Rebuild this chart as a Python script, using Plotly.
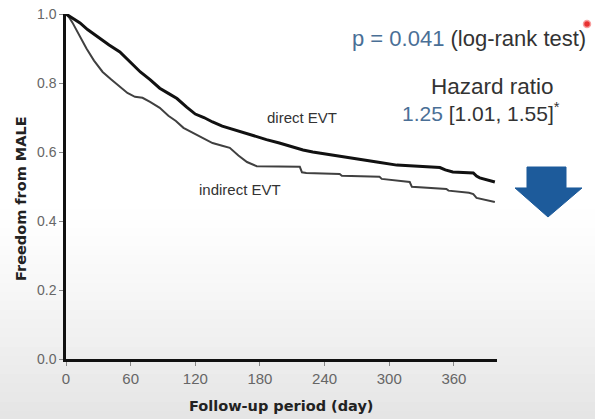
import plotly.graph_objects as go

# ---- data ----
direct_days = [0, 5, 13, 20, 31, 40, 50, 60, 69, 78, 87, 95, 103, 112, 120, 128, 136, 145, 155,
               164, 175, 186, 198, 210, 220, 229, 240, 248, 260, 276, 290, 307, 325, 347, 352,
               359, 378, 381, 384, 392, 398]
direct_surv = [1.0, 0.99, 0.974, 0.955, 0.93, 0.91, 0.89, 0.86, 0.832, 0.81, 0.785, 0.77, 0.755,
               0.73, 0.71, 0.70, 0.687, 0.675, 0.665, 0.656, 0.645, 0.636, 0.626, 0.615, 0.606,
               0.600, 0.595, 0.591, 0.585, 0.577, 0.570, 0.562, 0.558, 0.555, 0.548, 0.542,
               0.539, 0.530, 0.525, 0.518, 0.513]

indirect_days = [0, 3, 6, 12, 19, 26, 34, 42, 50, 57, 64, 71, 78, 87, 95, 102, 109, 118, 128,
                 136, 145, 152, 160, 168, 177, 217, 219, 223, 254, 256, 291, 293, 319, 321,
                 353, 355, 374, 378, 381, 390, 398]
indirect_surv = [1.0, 0.99, 0.975, 0.94, 0.90, 0.865, 0.832, 0.81, 0.79, 0.771, 0.76, 0.757,
                 0.745, 0.728, 0.705, 0.69, 0.67, 0.655, 0.64, 0.626, 0.618, 0.612, 0.59, 0.571,
                 0.559, 0.557, 0.541, 0.539, 0.536, 0.531, 0.528, 0.522, 0.513, 0.499, 0.493,
                 0.488, 0.482, 0.478, 0.467, 0.461, 0.455]

x_ticks = [0, 60, 120, 180, 240, 300, 360]
y_ticks = [0.0, 0.2, 0.4, 0.6, 0.8, 1.0]
y_tick_labels = ["0.0", "0.2", "0.4", "0.6", "0.8", "1.0"]

FONT = "Arial, Liberation Sans, sans-serif"
TITLE_FONT = "DejaVu Sans, Verdana, sans-serif"
BLUE = "#4a6f96"
DARK = "#333333"

# body margin is removed in the page (post_script), so the figure fills the window
PAGE_W, PAGE_H = 595, 419
W, H = PAGE_W, PAGE_H
PX0, PX1, PY0, PY1 = 66, 497, 14, 359       # plot area in page pixels
L, T = PX0, PY0
R, B = W - PX1, H - PY1
pw, ph = PX1 - PX0, PY1 - PY0


def px_to_paper(px, py):
    return (px - PX0) / pw, (PY1 - py) / ph


fig = go.Figure()
fig.add_trace(go.Scatter(x=indirect_days, y=indirect_surv, mode="lines",
                         line=dict(color="#404040", width=2),
                         name="indirect EVT", showlegend=False))
fig.add_trace(go.Scatter(x=direct_days, y=direct_surv, mode="lines",
                         line=dict(color="#111111", width=3),
                         name="direct EVT", showlegend=False))

# ---- background gradient (slide look) ----
shapes = []
n = 24
y_top_px, y_bot_px = 200, 420
for i in range(n):
    p0 = y_top_px + (y_bot_px - y_top_px) * i / n
    p1 = y_top_px + (y_bot_px - y_top_px) * (i + 1) / n
    g = int(round(255 - (255 - 228) * ((i + 0.5) / n) ** 1.3))
    x0, y0 = px_to_paper(0, p0)
    x1, y1 = px_to_paper(PAGE_W, p1 + 1)
    shapes.append(dict(type="rect", xref="paper", yref="paper", x0=x0, x1=x1, y0=y1, y1=y0,
                       fillcolor=f"rgb({g},{g},{g})", line=dict(width=0), layer="below"))

# blue down arrow
pts = [(527, 167), (566, 167), (566, 188), (582, 188), (548, 217), (515, 188), (527, 188)]
path = ""
for i, (px, py) in enumerate(pts):
    xx, yy = px_to_paper(px, py)
    path += ("M" if i == 0 else "L") + f"{xx:.4f},{yy:.4f} "
path += "Z"
shapes.append(dict(type="path", xref="paper", yref="paper", path=path,
                   fillcolor="#1d5b9b", line=dict(color="#1d5b9b", width=1)))

# red dot
cx, cy = px_to_paper(587, 24)
rx, ry = 3.5 / pw, 3.5 / ph
shapes.append(dict(type="circle", xref="paper", yref="paper", x0=cx - rx, x1=cx + rx,
                   y0=cy - ry, y1=cy + ry, fillcolor="#e83030",
                   line=dict(color="#f8a0a0", width=1.5)))


def ann(text, px, py, size, color=DARK, xanchor="center", bold=False, angle=0, family=FONT):
    x, y = px_to_paper(px, py)
    return dict(text=f"<b>{text}</b>" if bold else text, x=x, y=y, xref="paper", yref="paper",
                showarrow=False, xanchor=xanchor, yanchor="middle", textangle=angle,
                font=dict(family=family, size=size, color=color))


annotations = [
    ann("direct EVT", 302, 117, 15),
    ann("indirect EVT", 240, 189, 15),
    ann(f"<span style='color:{BLUE}'>p = 0.041</span> (log-rank test)", 469, 38, 22),
    ann("Hazard ratio", 492, 87, 22.5),
    ann(f"<span style='color:{BLUE}'>1.25</span> [1.01, 1.55]<sup>*</sup>", 481, 112, 21),
    ann("Freedom from MALE", 21, 199, 14.5, color="#222222", bold=True, angle=-90,
        family=TITLE_FONT),
    ann("Follow-up period (day)", 281, 406, 14.5, color="#222222", bold=True,
        family=TITLE_FONT),
]

fig.update_layout(
    width=W, height=H,
    margin=dict(l=L, r=R, t=T, b=B, autoexpand=False),
    paper_bgcolor="white",
    plot_bgcolor="rgba(0,0,0,0)",
    shapes=shapes,
    annotations=annotations,
    font=dict(family=FONT),
    hovermode=False,
    xaxis=dict(range=[0, 400], tickvals=x_ticks, showgrid=False, zeroline=False,
               showline=True, linecolor="#111111", linewidth=2.5, ticks="outside",
               ticklen=4, tickcolor="#888888", tickfont=dict(size=15, color="#666666"),
               fixedrange=True, ticklabeloverflow="allow"),
    yaxis=dict(range=[0, 1], tickvals=y_ticks, ticktext=y_tick_labels, showgrid=False,
               zeroline=False, showline=True, linecolor="#111111", linewidth=2.5,
               ticks="outside", ticklen=4, tickcolor="#888888",
               tickfont=dict(size=14, color="#666666"), fixedrange=True,
               ticklabeloverflow="allow"),
)

fig.write_html("out.html", config={"displayModeBar": False},
               post_script="document.body.style.margin='0px';")
